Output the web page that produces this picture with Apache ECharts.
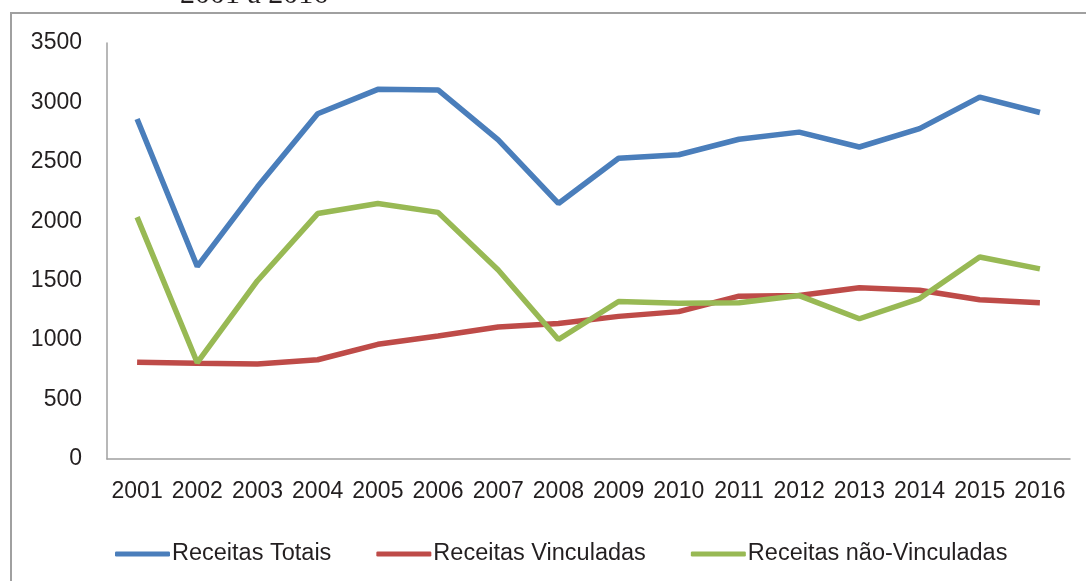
<!DOCTYPE html>
<html>
<head>
<meta charset="utf-8">
<script src="https://cdn.jsdelivr.net/npm/echarts@6/dist/echarts.min.js"></script>
<style>
html,body{margin:0;padding:0;background:#fff;}
#chart{width:1086px;height:581px;}
</style>
</head>
<body>
<div id="chart"></div>
<script>
const years = ['2001','2002','2003','2004','2005','2006','2007','2008','2009','2010','2011','2012','2013','2014','2015','2016'];
const receitasTotais = [2860,1620,2290,2905,3110,3105,2685,2150,2530,2560,2690,2750,2625,2780,3045,2915];
const receitasVinculadas = [815,805,800,835,965,1035,1110,1140,1200,1240,1370,1375,1440,1420,1340,1315];
const receitasNaoVinculadas = [2035,810,1500,2065,2150,2075,1590,1005,1325,1310,1315,1375,1180,1350,1700,1600];
const seriesNames = ['Receitas Totais','Receitas Vinculadas','Receitas não-Vinculadas'];
const titleFragment = '2001 a 2016';

const font = 'Liberation Sans';
const chart = echarts.init(document.getElementById('chart'), null, {renderer:'canvas'});
const mk = (name, data, color) => ({
  name, type:'line', data, symbol:'none', smooth:false,
  lineStyle:{width:5.5, color}, itemStyle:{color},
  emphasis:{disabled:true}
});
chart.setOption({
  animation:false,
  backgroundColor:'#fff',
  graphic:[
    {type:'rect', shape:{x:11, y:13, width:1200, height:700}, style:{fill:'none', stroke:'#a0a0a0', lineWidth:2}, silent:true, z:-1},
    {type:'text', x:180, y:10, style:{text:titleFragment, font:'30px "Liberation Serif"', fill:'#231f20', verticalAlign:'bottom'}, silent:true}
  ],
  grid:{left:107, right:16, top:43, bottom:122, containLabel:false},
  legend:{
    data:seriesNames, left:110, top:537,
    itemWidth:55, itemHeight:5, itemGap:45,
    icon:'roundRect',
    textStyle:{fontFamily:font, fontSize:23.5, color:'#231f20', padding:[0,0,0,-3]},
    selectedMode:false
  },
  xAxis:{
    type:'category', data:years, boundaryGap:true,
    axisLine:{show:true, lineStyle:{color:'#a0a0a0', width:1.5}},
    axisTick:{show:false},
    axisLabel:{fontFamily:font, fontSize:23, color:'#231f20', margin:21, interval:0},
    splitLine:{show:false}
  },
  yAxis:{
    type:'value', min:0, max:3500, interval:500,
    axisLine:{show:true, lineStyle:{color:'#a0a0a0', width:1.5}},
    axisTick:{show:false},
    axisLabel:{fontFamily:font, fontSize:23, color:'#231f20', margin:25, formatter:v => String(v)},
    splitLine:{show:false}
  },
  series:[
    mk(seriesNames[0], receitasTotais, '#4a7ebb'),
    mk(seriesNames[1], receitasVinculadas, '#be4b48'),
    mk(seriesNames[2], receitasNaoVinculadas, '#98b954')
  ]
});
</script>
</body>
</html>
